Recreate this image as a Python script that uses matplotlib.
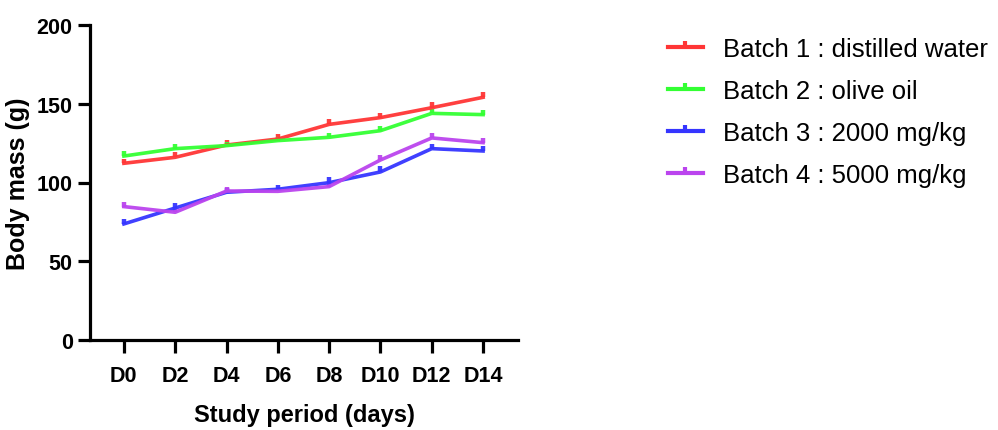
import numpy as np
import matplotlib
matplotlib.use("Agg")
import matplotlib.pyplot as plt
from matplotlib.lines import Line2D
from matplotlib.path import Path

plt.rcParams['font.family'] = ['Liberation Sans', 'DejaVu Sans']

days = ["D0", "D2", "D4", "D6", "D8", "D10", "D12", "D14"]

batch1 = [112.2, 116.0, 123.8, 127.6, 136.9, 141.2, 147.5, 154.1]
batch2 = [116.8, 121.5, 123.4, 126.6, 128.7, 132.9, 143.9, 143.1]
batch3 = [73.7, 83.8, 93.8, 95.7, 99.9, 106.7, 121.5, 120.0]
batch4 = [84.7, 81.1, 94.6, 94.4, 97.4, 114.3, 128.3, 125.3]

err1 = [3.0, 3.5, 3.0, 3.0, 3.5, 3.0, 3.5, 3.5]
err2 = [3.0, 3.0, 2.5, 2.5, 2.5, 3.0, 2.5, 3.0]
err3 = [3.0, 3.5, 3.0, 3.0, 3.5, 3.5, 3.0, 3.0]
err4 = [3.0, 2.5, 2.5, 2.0, 2.0, 3.0, 3.0, 3.0]

labels = ["Batch 1 : distilled water", "Batch 2 : olive oil",
          "Batch 3 : 2000 mg/kg", "Batch 4 : 5000 mg/kg"]
colors = ["#ff3535", "#33ff33", "#3535ff", "#bb44ee"]

fig = plt.figure(figsize=(9.98, 4.31), dpi=100)
ax = fig.add_axes([90 / 998, 1 - 341 / 431, (518 - 90) / 998, (341 - 26) / 431])

x = np.arange(len(days))
handles = []
up_tick = Path([[0, 0], [0, 1]])
for vals, err, lab, c in zip([batch1, batch2, batch3, batch4],
                             [err1, err2, err3, err4], labels, colors):
    ax.errorbar(x, vals, yerr=[np.zeros(len(err)), err], color=c, lw=2.6,
                elinewidth=3.2, capsize=0, alpha=0.95)
    # legend handle: line with a small upward tick, like the plot's error bars
    handles.append(Line2D([], [], color=c, lw=3, marker=up_tick,
                          markersize=9, mew=3, label=lab))

ax.set_xlim(-0.66, 7.68)
ax.set_ylim(0, 200)
ax.set_yticks([0, 50, 100, 150, 200])
ax.set_xticks(x)
ax.set_xticklabels(days)

for s in ["top", "right"]:
    ax.spines[s].set_visible(False)
for s in ["left", "bottom"]:
    ax.spines[s].set_linewidth(2.3)

ax.tick_params(axis="both", width=2.3, length=9, labelsize=15.5)
ax.tick_params(axis="x", pad=9)
for t in ax.get_xticklabels() + ax.get_yticklabels():
    t.set_fontweight("bold")

ax.set_ylabel("Body mass (g)", fontsize=18, fontweight="bold", labelpad=5)
ax.set_xlabel("Study period (days)", fontsize=17, fontweight="bold", labelpad=12)

leg = ax.legend(handles=handles, loc="upper left",
                bbox_to_anchor=(645 / 998, 1 - 15 / 431),
                bbox_transform=fig.transFigure, frameon=False, fontsize=18.5,
                handlelength=1.35, handletextpad=0.78, labelspacing=0.7,
                numpoints=1)

fig.savefig("out.png", dpi=100)
